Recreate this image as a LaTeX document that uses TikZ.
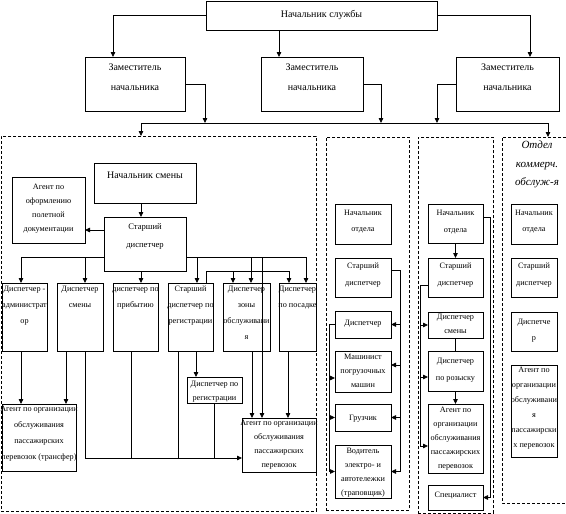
\documentclass[tikz,border=0pt]{standalone}
\usepackage{fontspec}
\setmainfont{Liberation Serif}
\usetikzlibrary{arrows.meta}

\newcommand{\boxtxt}[4][3]{\parbox[c][#3pt][t]{#2pt}{\centering\leftskip=-8pt plus 1fil\rightskip=-8pt plus 1fil\vspace*{#1pt}\leavevmode\rule{0pt}{0.72em}#4\par}}

\tikzset{
  unit/.style={draw, line width=0.9pt, inner sep=0pt, outer sep=0pt, anchor=north west, font=\fontsize{8.2}{16}\selectfont},
  tight/.style={unit, font=\fontsize{8.2}{14}\selectfont},
  loose/.style={unit, font=\fontsize{8.2}{17}\selectfont},
  chief/.style={unit, font=\fontsize{10}{20}\selectfont},
  panel/.style={draw, line width=0.8pt, dash pattern=on 3pt off 2pt, inner sep=0pt, anchor=north west},
  arr/.style={-{Triangle[length=5pt,width=4.5pt]}}
}

\begin{document}
\begin{tikzpicture}[x=1pt, y=-1pt, line width=0.8pt]
    \useasboundingbox (0,0) rectangle (566,514);

    \node[panel, minimum width=315pt, minimum height=375pt] (grpA) at (1,136) {};
    \node[panel, minimum width=83pt, minimum height=373pt] (grpB) at (326,137) {};
    \node[panel, minimum width=75pt, minimum height=376pt] (grpC) at (418,137) {};
    \draw[panel] (566,137) -- (502,137) -- (502,503) -- (566,503);
    \coordinate (grpD) at (548,137);

    \node[chief] (nsl) at (206,1) {\boxtxt[9.5]{231}{29}{Начальник службы}};
    \node[chief] (zam1) at (85,57) {\boxtxt[6]{100}{54}{Заместитель\\начальника}};
    \node[chief] (zam2) at (261,57) {\boxtxt[6]{102}{54}{Заместитель\\начальника}};
    \node[chief] (zam3) at (456,57) {\boxtxt[6]{103}{54}{Заместитель\\начальника}};

    \node[chief] (nsm) at (94,163) {\boxtxt[8]{102}{40}{Начальник смены}};
    \node[tight] (agof) at (12,177) {\boxtxt[6.5]{73}{66}{Агент по\\оформлению\\полетной\\документации}};
    \node[unit, font=\fontsize{8.6}{18}\selectfont] (stdisp) at (104,217) {\boxtxt[6.5]{82}{54}{Старший\\диспетчер}};
    \node[unit] (dadm) at (2,283) {\boxtxt[2.7]{45}{68}{Диспетчер -\\администрат\\ор}};
    \node[unit] (dsm) at (57,283) {\boxtxt[2.7]{46}{68}{Диспетчер\\смены}};
    \node[unit] (dprib) at (113,283) {\boxtxt[2.7]{45}{68}{диспетчер по\\прибытию}};
    \node[unit] (dstreg) at (168,283) {\boxtxt[2.7]{45}{68}{Старший\\диспетчер по\\регистрации}};
    \node[unit] (dzon) at (223,283) {\boxtxt[2.7]{47}{68}{Диспетчер\\зоны\\обслуживани\\я}};
    \node[unit] (dpos) at (279,283) {\boxtxt[2.7]{37}{68}{Диспетчер\\по посадке}};
    \node[tight] (dreg) at (187,377) {\boxtxt[3.7]{55}{26}{Диспетчер по\\регистрации}};
    \node[unit] (agtr) at (2,404) {\boxtxt[1.7]{74}{67}{Агент по организации\\обслуживания\\пассажирских\\перевозок (трансфер)}};
    \node[tight] (agr) at (242,418) {\boxtxt[1.7]{74}{54}{Агент по организации\\обслуживания\\пассажирских\\перевозок}};

    \node[unit] (p2nach) at (335,204) {\boxtxt[5.7]{56}{40}{Начальник\\отдела}};
    \node[loose] (p2st) at (335,258) {\boxtxt[4.7]{56}{39}{Старший\\диспетчер}};
    \node[unit] (p2d) at (335,311) {\boxtxt[8.2]{56}{27}{Диспетчер}};
    \node[tight] (p2m) at (335,351) {\boxtxt[2.7]{56}{41}{Машинист\\погрузочных\\машин}};
    \node[unit] (p2g) at (335,404) {\boxtxt[10.5]{56}{27}{Грузчик}};
    \node[tight] (p2v) at (335,445) {\boxtxt[2.7]{56}{53}{Водитель\\электро- и\\автотележки\\(траповщик)}};

    \node[loose] (p3nach) at (428,204) {\boxtxt[5.7]{55}{39}{Начальник\\отдела}};
    \node[loose] (p3st) at (428,258) {\boxtxt[4.7]{55}{39}{Старший\\диспетчер}};
    \node[tight] (p3ds) at (428,312) {\boxtxt[1.7]{55}{26}{Диспетчер\\смены}};
    \node[loose] (p3roz) at (428,351) {\boxtxt[6.7]{55}{40}{Диспетчер\\по розыску}};
    \node[tight] (p3ag) at (428,404) {\boxtxt[2.7]{55}{69}{Агент по\\организации\\обслуживания\\пассажирских\\перевозок}};
    \node[unit] (p3sp) at (428,485) {\boxtxt[6.7]{55}{25}{Специалист}};

    \node[unit, draw=none, font=\fontsize{11}{18.5}\selectfont\itshape] (p4head) at (507,137) {\boxtxt[3.6]{60}{55}{Отдел\\коммерч.\\обслуж-я}};
    \node[unit] (p4nach) at (511,204) {\boxtxt[5.7]{46}{40}{Начальник\\отдела}};
    \node[loose] (p4st) at (511,258) {\boxtxt[4.7]{46}{39}{Старший\\диспетчер}};
    \node[unit] (p4d) at (511,312) {\boxtxt[6.7]{46}{39}{Диспетче\\р}};
    \node[unit, font=\fontsize{8.2}{15}\selectfont] (p4ag) at (511,365) {\boxtxt[1.7]{46}{92}{Агент по\\организации\\обслуживани\\я\\пассажирски\\х перевозок}};

    \coordinate (busL) at (141,123);
    \coordinate (busR) at (548,123);
    \coordinate (b1) at (0,257);
    \coordinate (b2) at (0,271);
    \coordinate (b3) at (0,458);

    \draw[arr] (nsl.west) -| (113,0 |- zam1.north);
    \draw[arr] (279,0 |- nsl.south) -- (279,0 |- zam2.north);
    \draw[arr] (nsl.east) -| (530,0 |- zam3.north);
    \draw[arr] (zam1.east) -| (205,0 |- busL);
    \draw[arr] (zam2.east) -| (381,0 |- busL);
    \draw[arr] (zam3.west) -| (437,0 |- busL);
    \draw (busL) -- (busR);
    \draw[arr] (busL) -- (busL |- grpA.north);
    \draw[arr] (busR) -- (grpD);

    \draw[arr] (141,0 |- nsm.south) -- (141,0 |- stdisp.north);
    \draw[arr] (stdisp.west |- 0,230) -- (agof.east |- 0,230);
    \draw[arr] (stdisp.west |- b1) -| (21,0 |- dadm.north);
    \draw[arr] (85,0 |- b1) -- (85,0 |- dsm.north);
    \draw[arr] (141,0 |- stdisp.south) -- (141,0 |- dprib.north);
    \draw[arr] (stdisp.east |- b1) -| (306,0 |- dpos.north);
    \draw[arr] (197,0 |- b1) -- (197,0 |- dstreg.north);
    \draw[arr] (251,0 |- b1) -- (251,0 |- dzon.north);
    \draw[arr] (262,0 |- b1) -- (262,0 |- agr.north);
    \draw[arr] (206,0 |- dstreg.north) |- (289,0 |- b2) -- (289,0 |- dpos.north);
    \draw[arr] (233,0 |- b2) -- (233,0 |- dzon.north);

    \draw[arr] (21,0 |- dadm.south) -- (21,0 |- agtr.north);
    \draw[arr] (66,0 |- dsm.south) -- (66,0 |- agtr.north);
    \draw[arr] (85,0 |- dsm.south) |- (agr.west |- b3);
    \draw (131,0 |- dprib.south) -- (131,0 |- b3);
    \draw (178,0 |- dstreg.south) -- (178,0 |- b3);
    \draw[arr] (196,0 |- dstreg.south) -- (196,0 |- dreg.north);
    \draw (214,0 |- dreg.south) -- (214,0 |- b3);
    \draw[arr] (252,0 |- dzon.south) -- (252,0 |- agr.north);
    \draw[arr] (288,0 |- dpos.south) -- (288,0 |- agr.north);

    \draw (p2st.east |- 0,270) -| (400,0 |- p2v.east);
    \draw[arr] (400,0 |- p2d.east) -- (p2d.east);
    \draw[arr] (400,365) -- (p2m.east |- 0,365);
    \draw[arr] (400,0 |- p2g.east) -- (p2g.east);
    \draw[arr] (400,0 |- p2v.east) -- (p2v.east);
    \draw (p2d.west) -| (329,0 |- p2v.west);
    \draw[arr] (329,378) -- (p2m.west |- 0,378);
    \draw[arr] (329,0 |- p2g.west) -- (p2g.west);
    \draw[arr] (329,0 |- p2v.west) -- (p2v.west);

    \draw[arr] (p3nach.east |- 0,217) -| (490,0 |- p3sp.east) -- (p3sp.east);
    \draw[arr] (p3nach.south) -- (p3st.north);
    \draw (p3st.west |- 0,285) -| (420,446);
    \draw[arr] (420,0 |- p3ds.west) -- (p3ds.west);
    \draw[arr] (420,377) -- (p3roz.west |- 0,377);
    \draw[arr] (420,446) -- (p3ag.west |- 0,446);
    \draw (p3ds.south) -- (p3roz.north);
    \draw[arr] (p3roz.south) -- (p3ag.north);
\end{tikzpicture}
\end{document}
